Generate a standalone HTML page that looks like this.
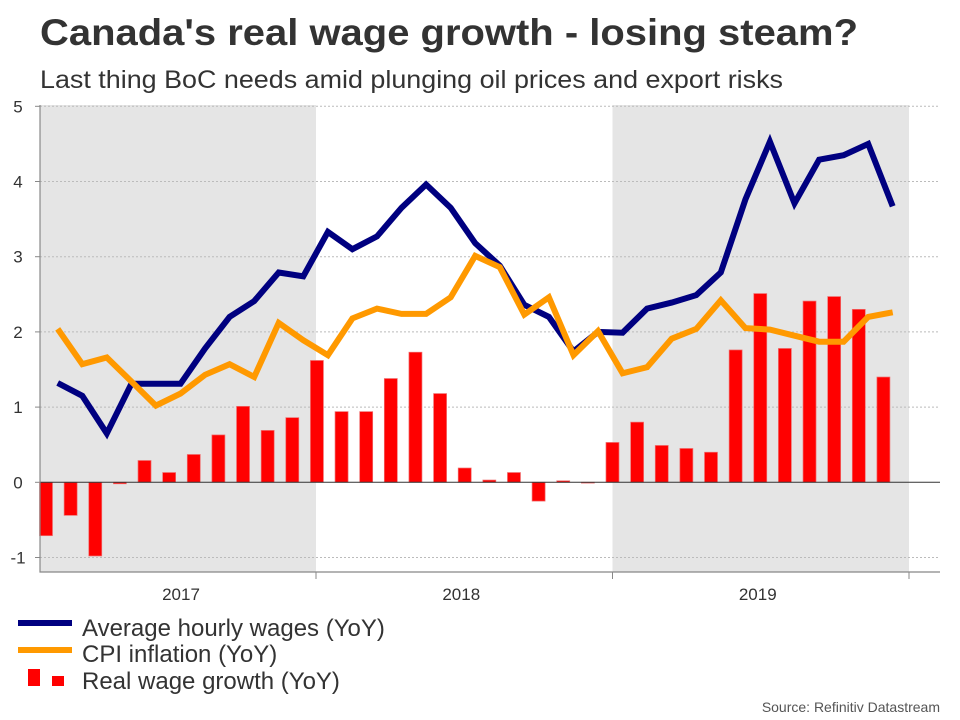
<!DOCTYPE html>
<html><head><meta charset="utf-8"><style>
html,body{margin:0;padding:0;background:#fff;}
svg{display:block;font-family:"Liberation Sans",Arial,sans-serif;}
</style></head><body>
<svg id="chart" width="960" height="720" viewBox="0 0 960 720">
<text x="40" y="45" font-size="37" font-weight="bold" fill="#333" textLength="818" lengthAdjust="spacingAndGlyphs">Canada's real wage growth - losing steam?</text>
<text x="40" y="88" font-size="25" fill="#333" textLength="743" lengthAdjust="spacingAndGlyphs">Last thing BoC needs amid plunging oil prices and export risks</text>
<g id="plot"></g>
<g>
<line x1="18" y1="623" x2="72" y2="623" stroke="#000080" stroke-width="6"/>
<text x="82" y="636" font-size="24" fill="#333">Average hourly wages (YoY)</text>
<line x1="18" y1="650" x2="72" y2="650" stroke="#ff9900" stroke-width="6"/>
<text x="82" y="662" font-size="24" fill="#333">CPI inflation (YoY)</text>
<rect x="28" y="669" width="12" height="17" fill="#f00"/>
<rect x="52" y="676" width="12" height="10" fill="#f00"/>
<text x="82" y="689" font-size="24" fill="#333">Real wage growth (YoY)</text>
</g>
<text x="940" y="712" font-size="14" fill="#555" text-anchor="end">Source: Refinitiv Datastream</text>
</svg>
<script>
const yTicks = [-1, 0, 1, 2, 3, 4, 5];
const years = ["2017", "2018", "2019"];
const realWage = [-0.71,-0.44,-0.98,-0.02,0.29,0.13,0.37,0.63,1.01,0.69,0.86,1.62,0.94,0.94,1.38,1.73,1.18,0.19,0.03,0.13,-0.25,0.02,0,0.53,0.80,0.49,0.45,0.40,1.76,2.51,1.78,2.41,2.47,2.30,1.40];
const wages = [1.32,1.15,0.65,1.31,1.31,1.31,1.78,2.20,2.41,2.79,2.74,3.33,3.10,3.27,3.65,3.96,3.65,3.18,2.88,2.36,2.20,1.74,2.00,1.99,2.31,2.39,2.49,2.79,3.76,4.53,3.71,4.29,4.35,4.50,3.67];
const cpi = [2.04,1.57,1.66,1.34,1.02,1.18,1.43,1.57,1.40,2.12,1.89,1.69,2.18,2.31,2.24,2.24,2.46,3.01,2.86,2.23,2.46,1.69,2.01,1.45,1.53,1.91,2.04,2.42,2.05,2.03,1.95,1.87,1.87,2.20,2.26];

const NS = "http://www.w3.org/2000/svg";
const plot = document.getElementById("plot");
const L = 40, R = 940, T = 105, B = 572;
function y(v){ return 482.3 - v * 75.2; }
function xBar(i){ return 46 + i * 24.63; }
function xLine(i){ return 57.7 + i * 24.56; }
function yearEdge(j){ return j === 0 ? 40 : 316 + (j - 1) * 296.5; }
function mk(tag, attrs){ const e = document.createElementNS(NS, tag); for (const k in attrs) e.setAttribute(k, attrs[k]); plot.appendChild(e); return e; }

years.forEach((yr, j) => {
  if (j % 2 === 0) {
    const r = mk("rect", {x: yearEdge(j), y: T, width: yearEdge(j+1) - yearEdge(j), height: B - T, fill: "#e5e5e5"});
    
    
  }
});
yTicks.forEach(t => {
  if (t !== 0) {
    const g = mk("line", {x1: L, x2: R, y1: y(t), y2: y(t), stroke: "#bbb", "stroke-dasharray": "2,2", "stroke-width": 1});
    
    
  }
  const tk = mk("line", {x1: L - 5, x2: L, y1: y(t), y2: y(t), stroke: "#888"});
  
  
  const lb = mk("text", {x: 18, y: y(t) + 6, "font-size": 17, fill: "#333", "text-anchor": "middle"});
  lb.textContent = t;
  
  
});
realWage.forEach((v, i) => {
  const y0 = y(0), y1 = y(v);
  const b = mk("rect", {x: xBar(i) - 6.5, y: Math.min(y0, y1), width: 13, height: Math.max(Math.abs(y1 - y0), 0.8), fill: "#ff0000", stroke: "#f07070", "stroke-width": 0.7});
  
  
});
const z = mk("line", {x1: L, x2: R, y1: y(0), y2: y(0), stroke: "#333", "stroke-width": 1});


const ax = mk("path", {d: `M${L},${T} V${B} H${R}`, fill: "none", stroke: "#888", "stroke-width": 1.2});


years.forEach((yr, j) => {
  const xt = yearEdge(j + 1);
  const tk = mk("line", {x1: xt, x2: xt, y1: B, y2: B + 7, stroke: "#888"});
  
  
  const cx = j === 0 ? 181 : (yearEdge(j) + yearEdge(j+1)) / 2 - 3;
  const lb = mk("text", {x: cx, y: 600, "font-size": 17, fill: "#333", "text-anchor": "middle"});
  lb.textContent = yr;
  
  
});
function series(arr, color, name){
  const d = arr.map((v, i) => (i ? "L" : "M") + xLine(i).toFixed(1) + "," + y(v).toFixed(1)).join(" ");
  const p = mk("path", {d: d, fill: "none", stroke: color, "stroke-width": 6, "stroke-linejoin": "miter"});
  
  
}
series(wages, "#000080", "wages-line");
series(cpi, "#ff9900", "cpi-line");
</script>
</body></html>
